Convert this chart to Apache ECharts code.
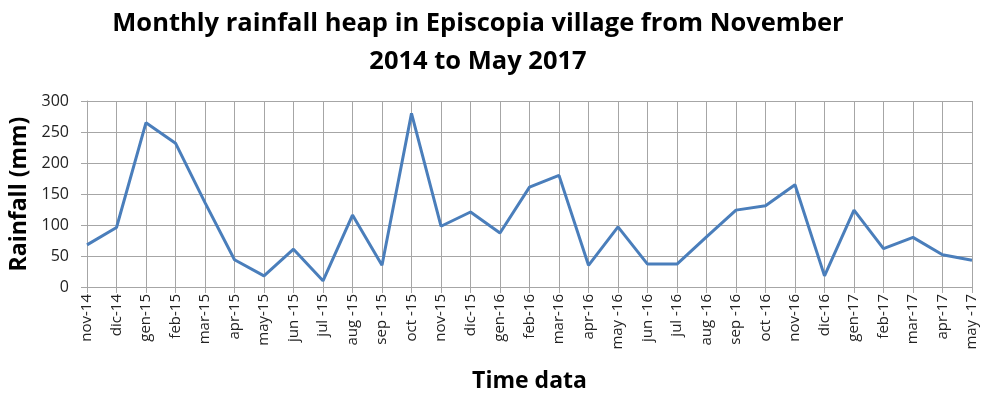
<!DOCTYPE html>
<html>
<head>
<meta charset="utf-8">
<script src="https://cdn.jsdelivr.net/npm/echarts@6/dist/echarts.min.js"></script>
<style>
  html, body { margin: 0; padding: 0; background: #fff; }
  #chart { width: 981px; height: 396px; }
</style>
</head>
<body>
<div id="chart"></div>
<script>
// Month labels (Italian abbreviations) for the observation period
const months = [
  'nov-14', 'dic-14', 'gen-15', 'feb-15', 'mar-15', 'apr-15', 'may-15', 'jun -15',
  'jul -15', 'aug -15', 'sep -15', 'oct -15', 'nov-15', 'dic-15', 'gen-16', 'feb-16',
  'mar-16', 'apr-16', 'may -16', 'jun -16', 'jul -16', 'aug -16', 'sep -16', 'oct -16',
  'nov-16', 'dic-16', 'gen-17', 'feb-17', 'mar-17', 'apr-17', 'may -17'
];

// Monthly rainfall totals in mm
const rainfall = [
  68, 96, 265, 232, 136, 44, 18, 61,
  10, 116, 35, 280, 98, 121, 87, 161,
  180, 35, 97, 37, 37, 81, 124, 131,
  165, 18, 124, 62, 80, 52, 43
];

// Value axis ticks
const yMin = 0, yMax = 300, yStep = 50;

const chart = echarts.init(document.getElementById('chart'));
const gridColor = '#a6a6a6';
const textColor = '#222';

chart.setOption({
  animation: false,
  title: {
    text: 'Monthly rainfall heap in Episcopia village from November\n2014 to May 2017',
    left: 473,
    textAlign: 'center',
    top: 0,
    textStyle: {
      fontFamily: 'Open Sans',
      fontWeight: 'bold',
      fontSize: 25.5,
      lineHeight: 38,
      color: '#000'
    }
  },
  grid: { left: 87, right: 9, top: 101, bottom: 109, outerBoundsMode: 'none', containLabel: false },
  xAxis: {
    type: 'category',
    data: months,
    boundaryGap: false,
    name: 'Time data',
    nameLocation: 'middle',
    nameGap: 83,
    nameTextStyle: { fontFamily: 'Open Sans', fontWeight: 'bold', fontSize: 23, color: '#000' },
    axisLine: { lineStyle: { color: gridColor, width: 1 } },
    axisTick: { show: true, length: 6, interval: 0, lineStyle: { color: gridColor } },
    axisLabel: {
      interval: 0, rotate: 90, margin: 7,
      fontFamily: 'Open Sans', fontSize: 15, color: textColor
    },
    splitLine: { show: true, interval: 0, lineStyle: { color: gridColor, width: 1 } }
  },
  yAxis: {
    type: 'value',
    min: yMin, max: yMax, interval: yStep,
    name: 'Rainfall (mm)',
    nameLocation: 'middle',
    nameGap: 53,
    nameTextStyle: { fontFamily: 'Open Sans', fontWeight: 'bold', fontSize: 23, color: '#000' },
    axisLine: { show: true, lineStyle: { color: gridColor, width: 1 } },
    axisTick: { show: true, length: 6, lineStyle: { color: gridColor } },
    axisLabel: { margin: 18, fontFamily: 'Open Sans', fontSize: 16, color: textColor },
    splitLine: { show: true, lineStyle: { color: gridColor, width: 1 } }
  },
  series: [{
    type: 'line',
    data: rainfall,
    symbol: 'none',
    lineStyle: { color: '#4a7ebb', width: 3 },
    itemStyle: { color: '#4a7ebb' }
  }]
});
</script>
</body>
</html>
